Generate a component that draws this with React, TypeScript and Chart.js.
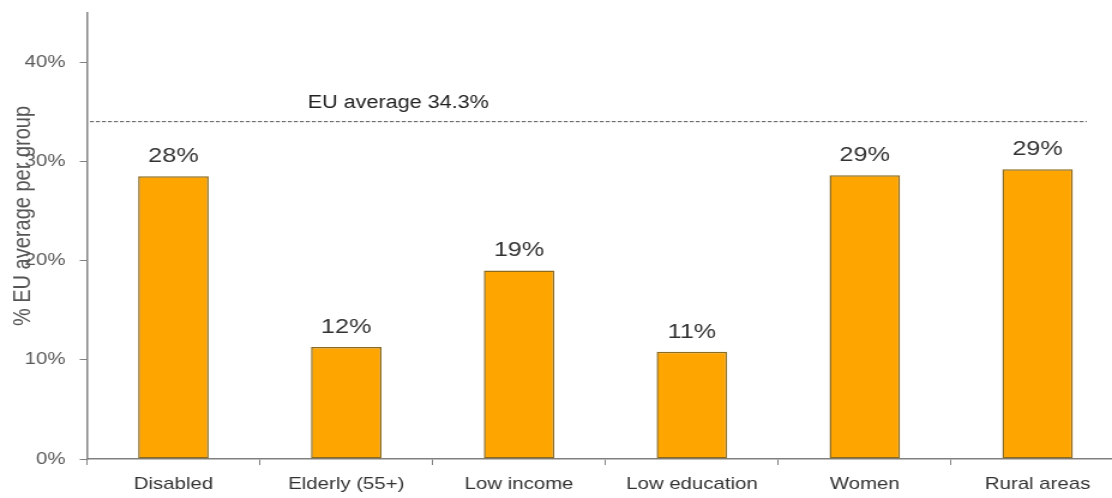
import React, { useEffect, useRef } from "react";
import { Chart, registerables } from "chart.js";

Chart.register(...registerables);

const CATEGORIES = ["Disabled", "Elderly (55+)", "Low income", "Low education", "Women", "Rural areas"];
const BAR_VALUES = [28.5, 11.3, 19.0, 10.8, 28.6, 29.2];
const VALUE_LABELS = ["28%", "12%", "19%", "11%", "29%", "29%"];
const EU_LINE_VALUE = 34.0;
const EU_LABEL = "EU average 34.3%";
const Y_TICKS = [0, 10, 20, 30, 40];
const Y_MAX = 45;
const Y_TITLE = "% EU average per group";

const FONT = '"Liberation Sans", Arial, sans-serif';
const STRETCH = 1.2;
const DISPLAY_W = 1124;
const INTERNAL_W = Math.round(DISPLAY_W / STRETCH);
const H = 498;

const overlayPlugin = {
  id: "overlay",
  afterDatasetsDraw(chart: any) {
    const ctx = chart.ctx;
    const area = chart.chartArea;
    const y = chart.scales.y;
    const meta = chart.getDatasetMeta(0);
    ctx.save();
    // EU average dashed line
    const ly = y.getPixelForValue(EU_LINE_VALUE);
    ctx.strokeStyle = "#555";
    ctx.lineWidth = 1;
    ctx.setLineDash([3.3, 1.7]);
    ctx.beginPath();
    ctx.moveTo(area.left + 2.5, ly);
    ctx.lineTo(area.right - 31, ly);
    ctx.stroke();
    ctx.setLineDash([]);
    ctx.fillStyle = "#222";
    ctx.font = "18px " + FONT;
    ctx.textAlign = "left";
    ctx.textBaseline = "alphabetic";
    ctx.fillText(EU_LABEL, area.left + 184, ly - 13.5);
    // value labels
    ctx.font = "21px " + FONT;
    ctx.fillStyle = "#333";
    ctx.textAlign = "center";
    meta.data.forEach((bar: any, i: number) => {
      ctx.fillText(VALUE_LABELS[i], bar.x, bar.y - 14);
    });
    // y axis title
    ctx.translate(19, 216);
    ctx.rotate(-Math.PI / 2);
    ctx.fillStyle = "#555";
    ctx.font = "20px " + FONT;
    ctx.textAlign = "center";
    ctx.textBaseline = "middle";
    ctx.fillText(Y_TITLE, 0, 0);
    ctx.restore();
  },
};

export default function App() {
  const ref = useRef<HTMLCanvasElement>(null);
  useEffect(() => {
    if (!ref.current) return;
    const chart = new Chart(ref.current, {
      type: "bar",
      data: {
        labels: CATEGORIES,
        datasets: [
          {
            data: BAR_VALUES,
            backgroundColor: "#FFA500",
            borderColor: "#8B6B1F",
            borderWidth: 1.5,
            borderSkipped: false,
            categoryPercentage: 1,
            barPercentage: 0.408,
          },
        ],
      },
      options: {
        responsive: false,
        animation: false,
        devicePixelRatio: 1,
        layout: { padding: { top: 12.5, right: 0, left: 0, bottom: 0 } },
        plugins: { legend: { display: false }, tooltip: { enabled: false }, title: { display: false } },
        scales: {
          x: {
            offset: true,
            grid: {
              display: true,
              offset: true,
              drawOnChartArea: false,
              drawTicks: true,
              tickLength: 6,
              color: "#808080",
            },
            border: { display: true, color: "#808080", width: 1.5 },
            ticks: { color: "#333", font: { family: FONT, size: 17 }, padding: 9, maxRotation: 0, autoSkip: false },
            afterFit: (s: any) => {
              s.height = H - 459;
              s.paddingLeft = 0;
              s.paddingRight = 0;
            },
          },
          y: {
            min: 0,
            max: Y_MAX,
            grid: { display: true, drawOnChartArea: false, drawTicks: true, tickLength: 6, color: "#808080" },
            border: { display: true, color: "#808080", width: 1.5 },
            ticks: {
              color: "#5a5a5a",
              font: { family: FONT, size: 17 },
              padding: 12,
              callback: (v: any) => v + "%",
            },
            afterBuildTicks: (s: any) => {
              s.ticks = Y_TICKS.map((v) => ({ value: v }));
            },
            afterFit: (s: any) => {
              s.width = 87 / STRETCH;
              s.paddingTop = 0;
              s.paddingBottom = 0;
            },
          },
        },
      },
      plugins: [overlayPlugin],
    });
    return () => chart.destroy();
  }, []);
  return (
    <div
      style={{
        position: "fixed",
        left: 0,
        top: 0,
        width: 1112,
        height: H,
        overflow: "hidden",
        background: "#fff",
      }}
    >
      <canvas
        ref={ref}
        width={INTERNAL_W}
        height={H}
        style={{ width: DISPLAY_W + "px", height: H + "px", display: "block" }}
      />
    </div>
  );
}
